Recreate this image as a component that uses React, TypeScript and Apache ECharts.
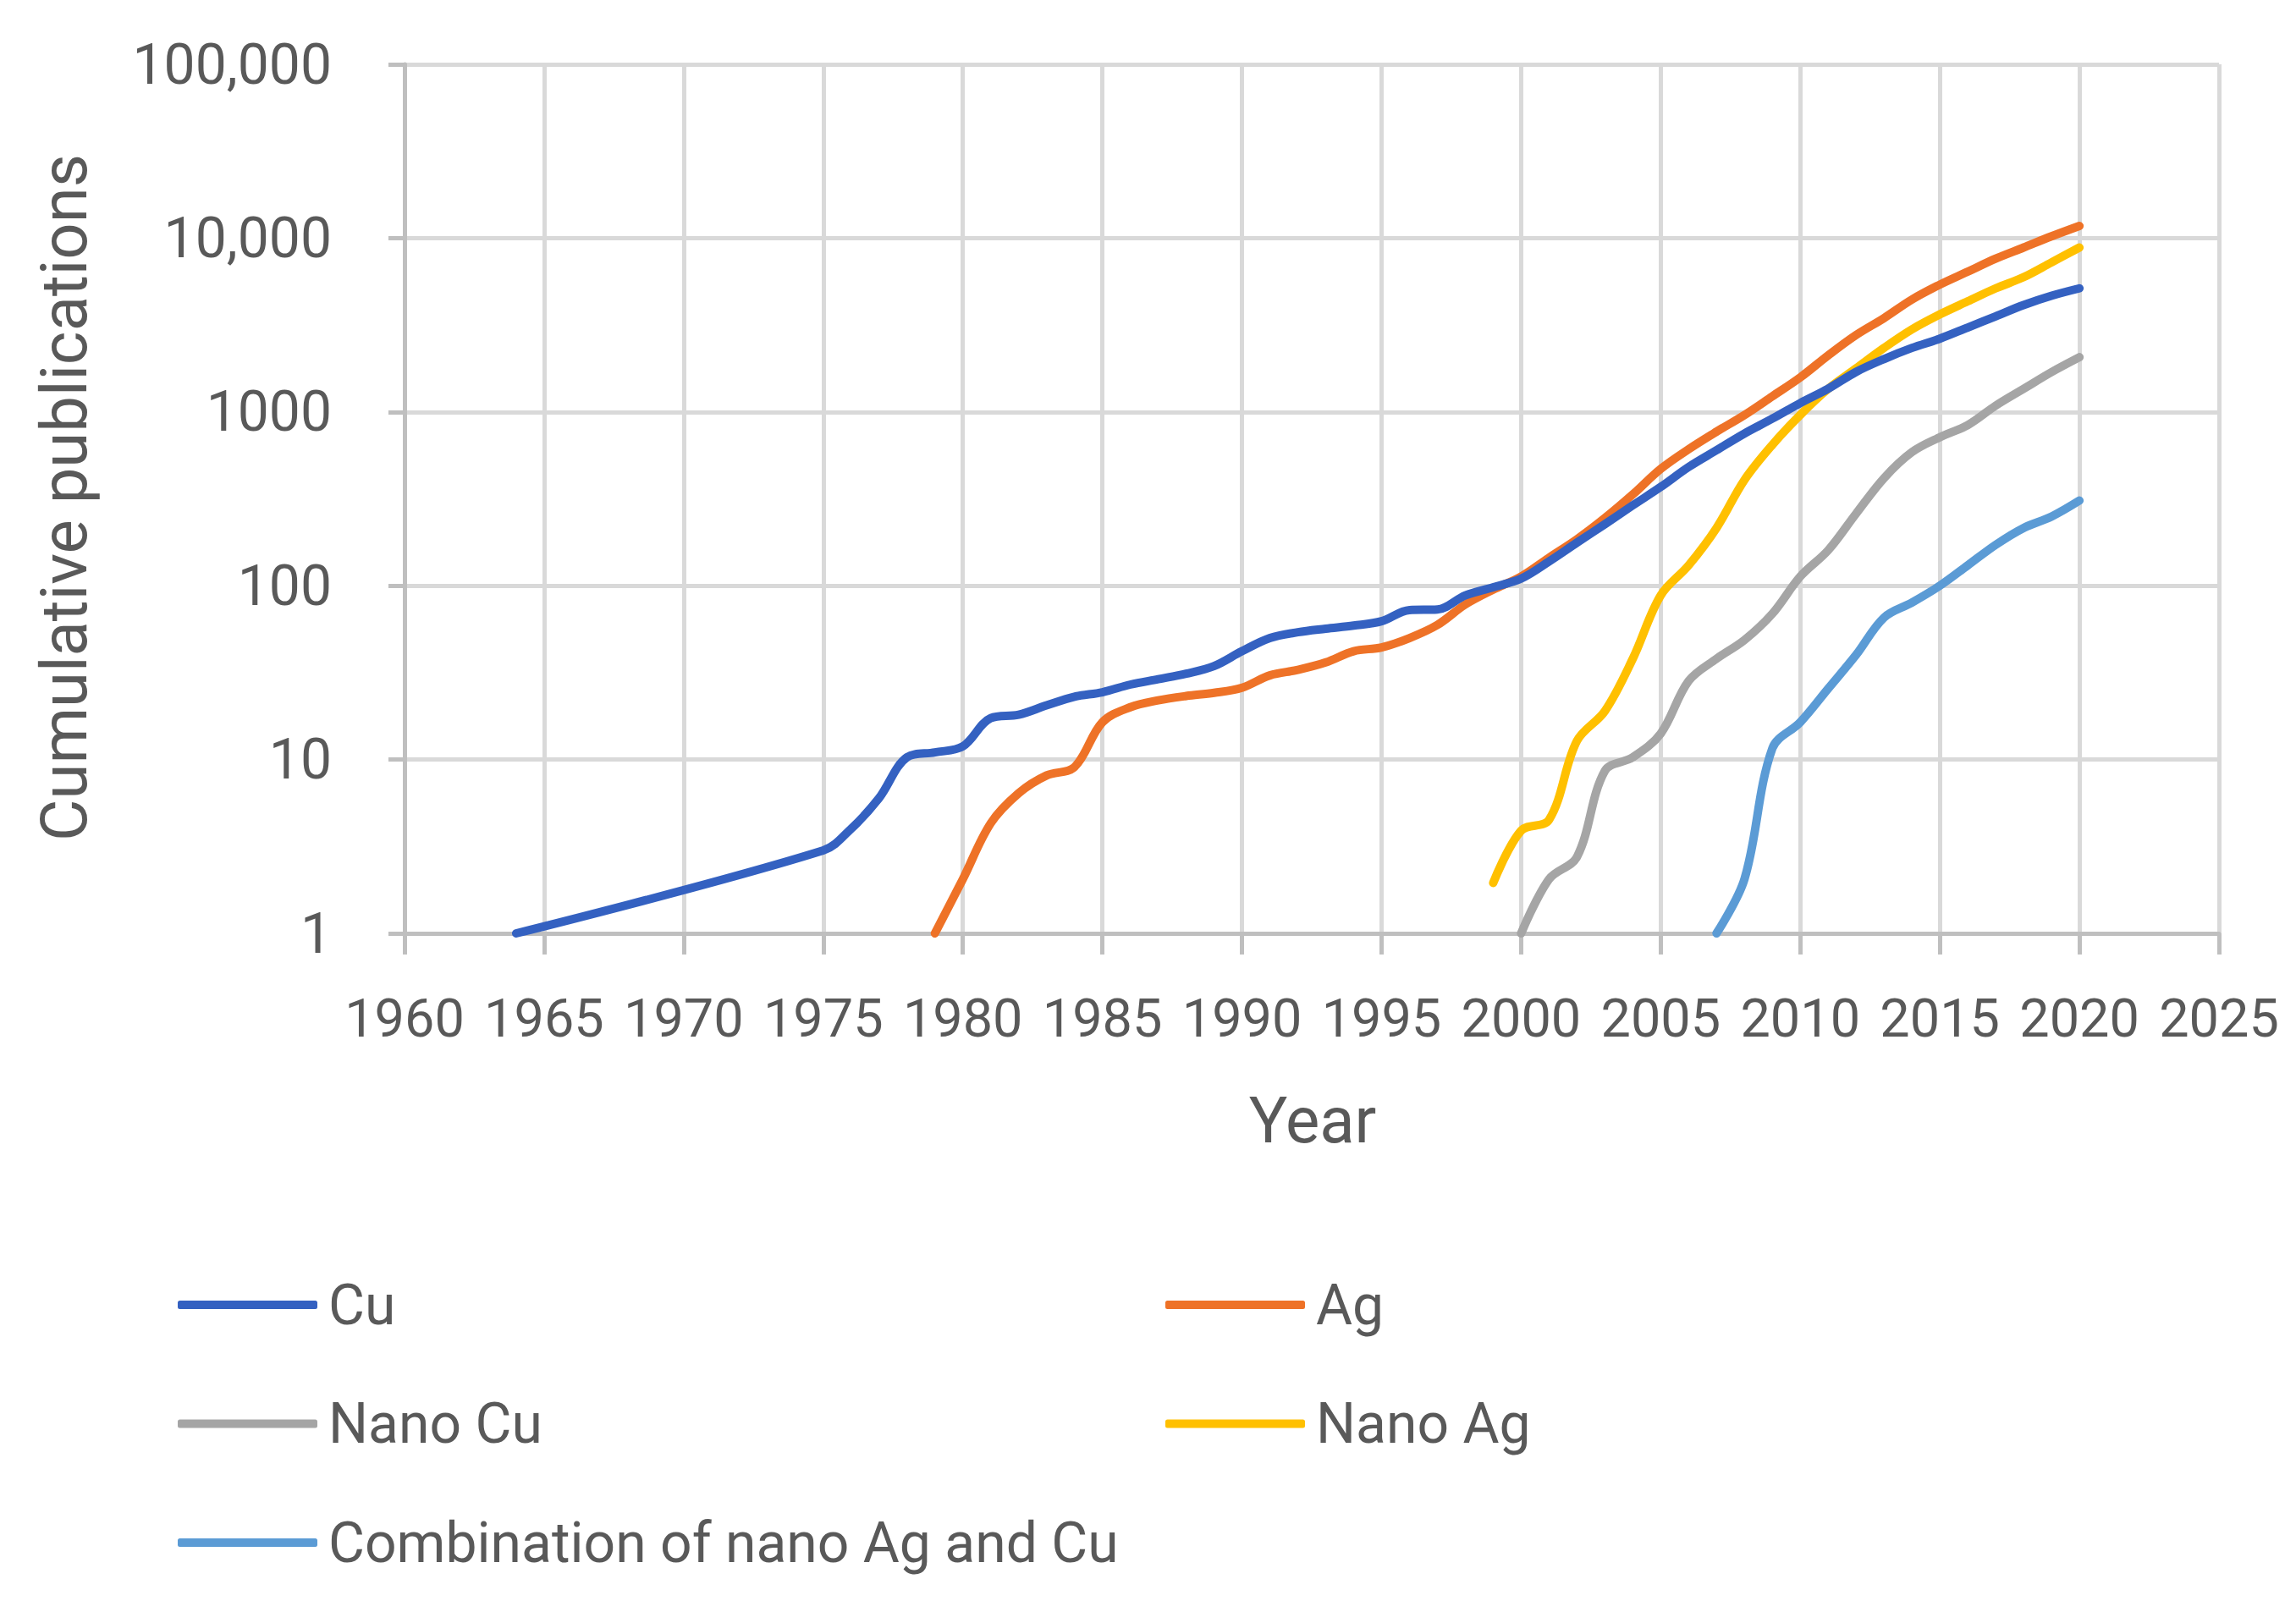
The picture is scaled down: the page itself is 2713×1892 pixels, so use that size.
import React, { useEffect, useRef } from "react";
import * as echarts from "echarts";

// ---- Data ----
const seriesNames = ["Cu", "Ag", "Nano Cu", "Nano Ag", "Combination of nano Ag and Cu"];
const seriesColors = ["#3461C1", "#EE7227", "#A5A5A5", "#FFC000", "#5B9BD5"];

const cuYears = [1964, 1975, 1976, 1977, 1978, 1979, 1980, 1981, 1982, 1983, 1984, 1985, 1986, 1987, 1988, 1989, 1990, 1991, 1992, 1993, 1994, 1995, 1996, 1997, 1998, 1999, 2000, 2001, 2002, 2003, 2004, 2005, 2006, 2007, 2008, 2009, 2010, 2011, 2012, 2013, 2014, 2015, 2016, 2017, 2018, 2019, 2020];
const cuValues = [1, 3, 4, 6, 10.3, 11, 11.9, 17.3, 18.1, 20.5, 23, 24.4, 27, 29, 31.2, 34.5, 42, 50, 54, 56.6, 59, 62.5, 72.5, 73, 88, 98, 110, 138, 177, 226, 290, 370, 482, 602, 751, 915, 1125, 1360, 1700, 2015, 2335, 2640, 3060, 3550, 4120, 4660, 5140];

const agYears = [1979, 1980, 1981, 1982, 1983, 1984, 1985, 1986, 1987, 1988, 1989, 1990, 1991, 1992, 1993, 1994, 1995, 1996, 1997, 1998, 1999, 2000, 2001, 2002, 2003, 2004, 2005, 2006, 2007, 2008, 2009, 2010, 2011, 2012, 2013, 2014, 2015, 2016, 2017, 2018, 2019, 2020];
const agValues = [1, 2.05, 4.3, 6.4, 8.1, 9.05, 16.4, 20, 21.9, 23.2, 24.2, 25.9, 30.5, 32.8, 36.2, 42, 44.2, 50, 59.5, 78, 95, 113, 145, 185, 245, 335, 470, 610, 770, 960, 1230, 1580, 2115, 2770, 3465, 4430, 5400, 6410, 7620, 8830, 10240, 11750];

const nanoCuYears = [2000, 2001, 2002, 2003, 2004, 2005, 2006, 2007, 2008, 2009, 2010, 2011, 2012, 2013, 2014, 2015, 2016, 2017, 2018, 2019, 2020];
const nanoCuValues = [1, 2.05, 2.75, 8.6, 10.3, 14.1, 28.3, 38, 48.7, 69, 113, 160, 260, 416, 587, 715, 840, 1087, 1358, 1695, 2065];

const nanoAgYears = [1999, 2000, 2001, 2002, 2003, 2004, 2005, 2006, 2007, 2008, 2009, 2010, 2011, 2012, 2013, 2014, 2015, 2016, 2017, 2018, 2019, 2020];
const nanoAgValues = [1.95, 3.9, 4.5, 12.8, 19, 38, 88, 131, 215, 406, 647, 961, 1358, 1780, 2335, 2985, 3640, 4330, 5140, 5960, 7250, 8830];

const comboYears = [2007, 2008, 2009, 2010, 2011, 2012, 2013, 2014, 2015, 2016, 2017, 2018, 2019, 2020];
const comboValues = [1, 2.05, 11.6, 16.4, 25.6, 40, 65.6, 80, 100, 131, 172, 215, 250, 309];

const yTickLabels = ["1", "10", "100", "1000", "10,000", "100,000"];
const xMin = 1960;
const xMax = 2025;
const xInterval = 5;

const xTitle = "Year";
const yTitle = "Cumulative publications";

const FONT = "Roboto, 'Noto Sans', sans-serif";
const TEXT_COLOR = "#595959";

function pairs(xs: number[], ys: number[]) {
  return xs.map((x, i) => [x, ys[i]]);
}

export default function App() {
  const ref = useRef<HTMLDivElement>(null);

  useEffect(() => {
    document.body.style.margin = "0";
    if (!ref.current) return;
    const chart = echarts.init(ref.current, undefined, { renderer: "svg" });

    const allData = [
      pairs(cuYears, cuValues),
      pairs(agYears, agValues),
      pairs(nanoCuYears, nanoCuValues),
      pairs(nanoAgYears, nanoAgValues),
      pairs(comboYears, comboValues),
    ];

    const legendCommon = {
      orient: "vertical" as const,
      icon: "roundRect",
      itemWidth: 165,
      itemHeight: 10,
      itemGap: 60.5,
      selectedMode: false,
      textStyle: {
        fontFamily: FONT,
        fontSize: 66,
        color: TEXT_COLOR,
        lineHeight: 80,
        padding: [0, 0, 0, 8],
      },
    };

    chart.setOption({
      animation: false,
      backgroundColor: "#ffffff",
      color: seriesColors,
      grid: {
        left: 478,
        top: 76,
        right: 2713 - 2622,
        bottom: 1892 - 1103,
        containLabel: false,
      },
      xAxis: {
        type: "value",
        min: xMin,
        max: xMax,
        interval: xInterval,
        axisLine: { show: true, onZero: false, lineStyle: { color: "#BFBFBF", width: 5 } },
        axisTick: { show: true, length: 25, lineStyle: { color: "#BFBFBF", width: 5 } },
        axisLabel: {
          margin: 69,
          fontFamily: FONT,
          fontSize: 63,
          color: TEXT_COLOR,
          formatter: (v: number) => String(v),
        },
        splitLine: { show: true, lineStyle: { color: "#D9D9D9", width: 5 } },
      },
      yAxis: {
        type: "log",
        logBase: 10,
        min: 1,
        max: 100000,
        axisLine: { show: true, lineStyle: { color: "#BFBFBF", width: 5 } },
        axisTick: { show: true, length: 19, lineStyle: { color: "#BFBFBF", width: 5 } },
        axisLabel: {
          margin: 86,
          fontFamily: FONT,
          fontSize: 66,
          color: TEXT_COLOR,
          formatter: (v: number) => {
            const idx = Math.round(Math.log10(v));
            return yTickLabels[idx] ?? String(v);
          },
        },
        splitLine: { show: true, lineStyle: { color: "#D9D9D9", width: 5 } },
      },
      legend: [
        { ...legendCommon, left: 205, top: 1497, data: [seriesNames[0], seriesNames[2], seriesNames[4]] },
        { ...legendCommon, left: 1372, top: 1497, data: [seriesNames[1], seriesNames[3]] },
      ],
      graphic: [
        {
          type: "text",
          x: 1551,
          y: 1324,
          style: {
            text: xTitle,
            fontFamily: FONT,
            fontSize: 76,
            fill: TEXT_COLOR,
            textAlign: "center",
            textVerticalAlign: "middle",
          },
        },
        {
          type: "text",
          x: 76,
          y: 588,
          rotation: Math.PI / 2,
          style: {
            text: yTitle,
            fontFamily: FONT,
            fontSize: 76,
            fill: TEXT_COLOR,
            textAlign: "center",
            textVerticalAlign: "middle",
          },
        },
      ],
      series: seriesNames.map((name, i) => ({
        name,
        type: "line",
        data: allData[i],
        smooth: 0.35,
        symbol: "none",
        showSymbol: false,
        lineStyle: { width: 10, color: seriesColors[i], cap: "round", join: "round" },
        itemStyle: { color: seriesColors[i] },
        z: 10 - i,
      })),
    });

    return () => chart.dispose();
  }, []);

  return <div ref={ref} style={{ width: 2713, height: 1892 }} />;
}
